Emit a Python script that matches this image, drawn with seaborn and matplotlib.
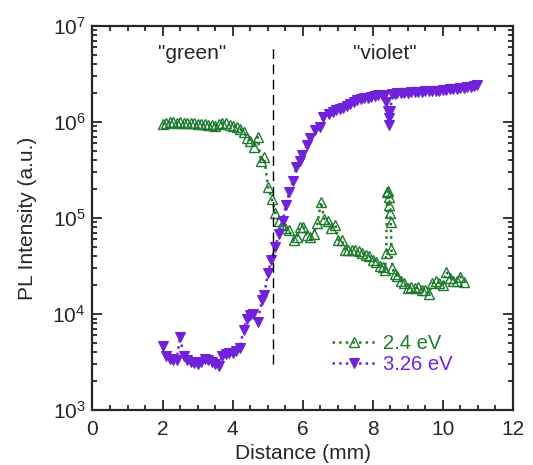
import matplotlib
matplotlib.use("Agg")
import matplotlib.pyplot as plt
import matplotlib.ticker as mticker
import seaborn as sns
import pandas as pd

# ---- data -------------------------------------------------------------
green_x = [2.0, 2.1, 2.2, 2.3, 2.4, 2.5, 2.6, 2.7, 2.8, 2.9, 3.0, 3.1, 3.2, 3.3, 3.4,
           3.5, 3.6, 3.7, 3.8, 3.93, 4.02, 4.12, 4.22, 4.31, 4.41, 4.50, 4.60, 4.71,
           4.81, 4.90, 5.01, 5.12, 5.22, 5.31, 5.40, 5.48, 5.60, 5.74, 5.83, 5.93,
           6.02, 6.12, 6.21, 6.31, 6.42, 6.52, 6.61, 6.71, 6.80, 6.93, 7.02, 7.12,
           7.21, 7.30, 7.40, 7.50, 7.60, 7.70, 7.80, 7.90, 8.00, 8.10, 8.20, 8.30,
           8.35, 8.38, 8.41, 8.43, 8.45, 8.47, 8.49, 8.51, 8.53, 8.56, 8.62, 8.70,
           8.80, 8.90, 9.00, 9.10, 9.20, 9.30, 9.40, 9.50, 9.60, 9.70, 9.80, 9.90,
           10.00, 10.10, 10.20, 10.30, 10.40, 10.50, 10.60]
green_y = [0.95e6, 0.98e6, 0.99e6, 0.99e6, 0.98e6, 0.99e6, 0.98e6, 0.98e6, 0.97e6,
           0.97e6, 0.96e6, 0.95e6, 0.95e6, 0.94e6, 0.93e6, 0.92e6, 0.95e6, 0.98e6,
           0.97e6, 0.93e6, 0.92e6, 0.89e6, 0.84e6, 0.79e6, 0.68e6, 0.63e6, 0.55e6,
           0.70e6, 0.39e6, 0.43e6, 0.21e6, 0.157e6, 0.112e6, 0.094e6, 0.085e6,
           0.078e6, 0.075e6, 0.059e6, 0.064e6, 0.081e6, 0.081e6, 0.067e6, 0.064e6,
           0.069e6, 0.088e6, 0.148e6, 0.099e6, 0.093e6, 0.078e6, 0.085e6, 0.059e6,
           0.059e6, 0.047e6, 0.047e6, 0.046e6, 0.046e6, 0.045e6, 0.043e6, 0.041e6,
           0.040e6, 0.037e6, 0.035e6, 0.032e6, 0.031e6, 0.029e6, 0.043e6, 0.185e6,
           0.19e6, 0.167e6, 0.137e6, 0.112e6, 0.092e6, 0.048e6, 0.030e6, 0.026e6,
           0.025e6, 0.022e6, 0.021e6, 0.0185e6, 0.019e6, 0.0185e6, 0.019e6, 0.018e6,
           0.0178e6, 0.0163e6, 0.021e6, 0.022e6, 0.021e6, 0.020e6, 0.0275e6, 0.024e6,
           0.022e6, 0.022e6, 0.0245e6, 0.0215e6]

violet_x = [2.0, 2.1, 2.2, 2.3, 2.4, 2.5, 2.6, 2.7, 2.8, 2.9, 3.0, 3.1, 3.2, 3.3, 3.4,
            3.5, 3.6, 3.7, 3.8, 3.9, 4.0, 4.1, 4.2, 4.31, 4.41, 4.50, 4.58, 4.71,
            4.84, 4.90, 5.01, 5.10, 5.22, 5.31, 5.43, 5.52, 5.62, 5.73, 5.82, 5.91,
            5.98, 6.12, 6.21, 6.36, 6.48, 6.59, 6.74, 6.85, 6.95, 7.05, 7.15, 7.25,
            7.35, 7.45, 7.55, 7.65, 7.75, 7.85, 7.95, 8.05, 8.15, 8.25, 8.33, 8.38,
            8.42, 8.45, 8.47, 8.50, 8.55, 8.62, 8.70, 8.80, 8.90, 9.00, 9.10, 9.20,
            9.30, 9.40, 9.50, 9.60, 9.70, 9.80, 9.90, 10.00, 10.10, 10.20, 10.30,
            10.40, 10.50, 10.60, 10.70, 10.80, 10.90, 10.97]
violet_y = [4.6e3, 3.7e3, 3.4e3, 3.3e3, 3.35e3, 5.8e3, 3.7e3, 3.3e3, 3.2e3, 3.1e3,
            3.0e3, 3.2e3, 3.4e3, 3.3e3, 3.2e3, 3.0e3, 2.9e3, 3.7e3, 3.8e3, 3.9e3,
            3.95e3, 4.1e3, 4.4e3, 6.8e3, 9.0e3, 9.8e3, 1.0e4, 8.3e3, 1.4e4, 1.58e4,
            2.7e4, 3.7e4, 5.0e4, 6.8e4, 9.4e4, 1.36e5, 1.88e5, 2.45e5, 3.4e5, 3.95e5,
            4.5e5, 5.8e5, 6.8e5, 8.3e5, 8.9e5, 1.14e6, 1.2e6, 1.27e6, 1.35e6, 1.36e6,
            1.4e6, 1.48e6, 1.56e6, 1.62e6, 1.68e6, 1.72e6, 1.76e6, 1.8e6, 1.84e6,
            1.87e6, 1.9e6, 1.92e6, 1.88e6, 1.6e6, 1.3e6, 1.1e6, 0.93e6, 1.3e6, 1.95e6,
            1.98e6, 2.0e6, 2.0e6, 2.02e6, 2.03e6, 2.05e6, 2.06e6, 2.07e6, 2.08e6,
            2.09e6, 2.1e6, 2.11e6, 2.12e6, 2.13e6, 2.15e6, 2.17e6, 2.19e6, 2.21e6,
            2.23e6, 2.25e6, 2.28e6, 2.31e6, 2.34e6, 2.37e6, 2.42e6]

series_labels = ["2.4 eV", "3.26 eV"]
region_labels = ['"green"', '"violet"']
region_label_x = [2.85, 8.35]
region_label_y = 5.2e6
boundary_x = 5.14
boundary_y = [3.0e3, 6.1e6]

GREEN = "#1d7a2c"
VIOLET = "#6f22d8"

# ---- style --------------------------------------------------------------
sns.set_style("ticks")
plt.rcParams["font.family"] = ["Liberation Sans", "DejaVu Sans"]
plt.rcParams["mathtext.default"] = "regular"
plt.rcParams["axes.linewidth"] = 1.6

fig = plt.figure(figsize=(5.33, 4.65), dpi=100)
ax = fig.add_axes([0.1735, 0.118, 0.789, 0.826])

dg = pd.DataFrame({"x": green_x, "y": green_y})
dv = pd.DataFrame({"x": violet_x, "y": violet_y})

sns.lineplot(data=dg, x="x", y="y", ax=ax, estimator=None, sort=False,
             color=GREEN, linestyle=":", linewidth=1.8, marker="^",
             markersize=7, markerfacecolor="none", markeredgecolor=GREEN,
             markeredgewidth=1.0, label=series_labels[0])
sns.lineplot(data=dv, x="x", y="y", ax=ax, estimator=None, sort=False,
             color=VIOLET, linestyle=":", linewidth=1.8, marker="v",
             markersize=7, markerfacecolor=VIOLET, markeredgecolor=VIOLET,
             markeredgewidth=0.8, label=series_labels[1])

ax.vlines(boundary_x, boundary_y[0], boundary_y[1], colors="black",
          linestyles=(0, (7, 4)), linewidth=1.0)

for lab, xx in zip(region_labels, region_label_x):
    ax.text(xx, region_label_y, lab, ha="center", va="center", fontsize=15)

ax.set_yscale("log")
ax.set_xlim(0, 12)
ax.set_ylim(1e3, 1e7)
ax.xaxis.set_major_locator(mticker.MultipleLocator(2))
ax.xaxis.set_minor_locator(mticker.MultipleLocator(0.5))
ax.yaxis.set_major_locator(mticker.LogLocator(base=10, numticks=10))
ax.yaxis.set_minor_locator(mticker.LogLocator(base=10, subs=range(2, 10), numticks=20))
ax.yaxis.set_minor_formatter(mticker.NullFormatter())

ax.tick_params(which="both", direction="in", top=True, right=True,
               labelsize=15, width=1.3)
ax.tick_params(axis="x", which="both", pad=7)
ax.tick_params(axis="y", which="both", pad=5)
ax.tick_params(which="major", length=7)
ax.tick_params(which="minor", length=3.5)

ax.set_xlabel("Distance (mm)", fontsize=15, labelpad=4)
ax.set_ylabel("PL Intensity (a.u.)", fontsize=15, labelpad=11)

leg = ax.legend(loc="center left", bbox_to_anchor=(0.57, 0.146), frameon=False,
                fontsize=14.5, handlelength=2.2, handletextpad=0.3, labelspacing=0.12,
                borderpad=0, borderaxespad=0, numpoints=1)
for txt, col in zip(leg.get_texts(), [GREEN, VIOLET]):
    txt.set_color(col)

fig.savefig("out.png", dpi=100)
